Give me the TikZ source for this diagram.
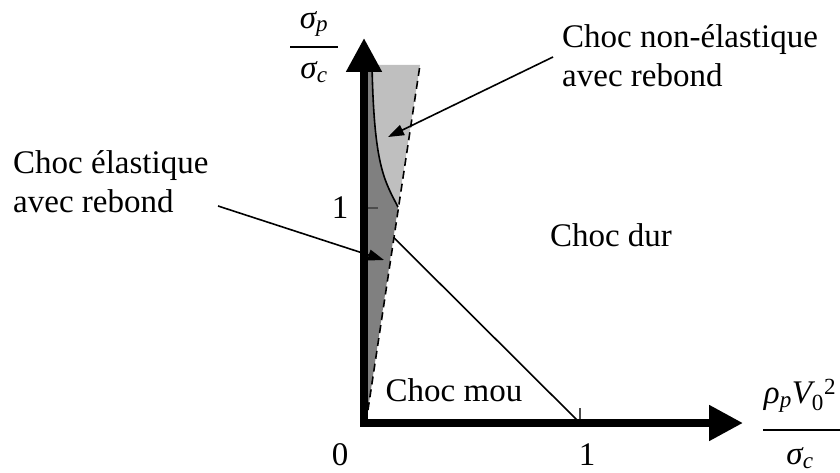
\documentclass[tikz,border=0pt]{standalone}
\usepackage{fontspec}
\setmainfont{Liberation Serif}
\usetikzlibrary{arrows.meta}
\newcommand\bigtxt{\fontsize{33}{39}\selectfont}
\tikzset{
  axisline/.style={line width=8pt, miter limit=10,
    arrows={Triangle[width=34pt,length=34pt]-Triangle[width=34pt,length=34pt]}},
  pointer/.style={line width=1.6pt, -{Triangle[width=11pt,length=16pt]}},
  thinline/.style={line width=1.6pt},
  dashline/.style={line width=1.6pt, dash pattern=on 8pt off 5pt},
  label/.style={font=\bigtxt, inner sep=0pt},
  tick/.style={line width=1.2pt, black!70},
}
\begin{document}
\begin{tikzpicture}[x=1pt,y=-1pt]
\useasboundingbox (0,0) rectangle (840,473);
% key points
\coordinate (O) at (364,423);
\coordinate (Ytip) at (364,38);
\coordinate (Xtip) at (743,423);
\coordinate (Dtop) at (420,65);
\coordinate (Dbot) at (366,423);
\coordinate (Ctop) at (372,65);
\coordinate (Cend) at (398,207);
\coordinate (Y1) at (364,208);
\coordinate (X1) at (580,423);
\coordinate (Dx) at (intersection of Dtop--Dbot and Y1--X1);
% fills
\fill[black!25] (Ctop) .. controls (374,165) and (384,180) .. (Cend) -- (Dtop) -- cycle;
\fill[black!50] (Dbot) -- (Cend) .. controls (384,180) and (374,165) .. (Ctop) -- (366,65) -- cycle;
% curve, dashed line, diagonal
\draw[thinline] (Ctop) .. controls (374,165) and (384,180) .. (Cend);
\draw[dashline] (Dbot) -- (Dtop);
\draw[thinline] (Dx) -- (X1);
% ticks
\draw[tick] (368,208) -- (378,208);
\draw[tick] (580,419) -- (580,408);
% axes
\draw[axisline] (Ytip) -- (O) -- (Xtip);
% axis labels
\node[label] (ynum) at (314,24) {\itshape σ\textsubscript{p}};
\node[label] (yden) at (314,72) {\itshape σ\textsubscript{c}};
\draw[line width=1.6pt] (290,47) -- (338,47);
\node[label] (xnum) at (800,396) {\itshape ρ\textsubscript{p}V\textsubscript{\upshape 0}\textsuperscript{\upshape 2}};
\node[label] (xden) at (800,458) {\itshape σ\textsubscript{c}};
\draw[line width=1.6pt] (763,430) -- (840,430);
% numbers
\node[label] (zero) at (340,455) {0};
\node[label] (oneY) at (340,208) {1};
\node[label] (oneX) at (587,455) {1};
% region labels
\node[label] (dur) at (611,235) {Choc dur};
\node[label] (mou) at (454,390) {Choc mou};
\node[label, align=left, anchor=north west] (nonel) at (562,24) {Choc non-élastique\\avec rebond};
\node[label, align=left, anchor=north west] (el) at (13,150) {Choc élastique\\avec rebond};
% pointers
\coordinate (p1s) at (553,57);
\coordinate (p1e) at (388,137);
\coordinate (p2s) at (218,206);
\coordinate (p2e) at (384,260);
\draw[pointer] (p1s) -- (p1e);
\draw[pointer] (p2s) -- (p2e);
\end{tikzpicture}
\end{document}
